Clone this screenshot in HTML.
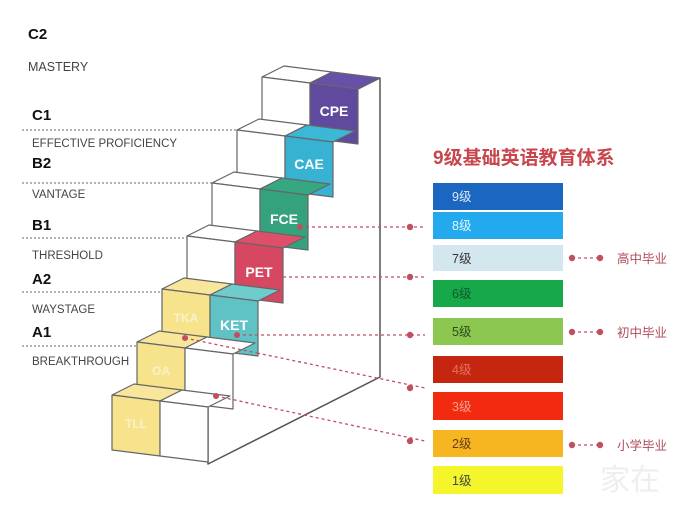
<!DOCTYPE html>
<html><head><meta charset="utf-8"><style>
html,body{margin:0;padding:0;background:#fff;}
svg{display:block;}
</style></head><body>
<svg width="700" height="505" viewBox="0 0 700 505" xmlns="http://www.w3.org/2000/svg" font-family="Liberation Sans, Noto Sans CJK SC, sans-serif">
<rect width="700" height="505" fill="#fff"/>
<!-- left labels -->
<g fill="#111" font-weight="bold" font-size="15">
<text x="28" y="39">C2</text>
<text x="32" y="120">C1</text>
<text x="32" y="168">B2</text>
<text x="32" y="230">B1</text>
<text x="32" y="284">A2</text>
<text x="32" y="337">A1</text>
</g>
<g fill="#444" font-size="11.5">
<text x="28" y="71" font-size="12.5">MASTERY</text>
<text x="32" y="147">EFFECTIVE PROFICIENCY</text>
<text x="32" y="198">VANTAGE</text>
<text x="32" y="259">THRESHOLD</text>
<text x="32" y="313">WAYSTAGE</text>
<text x="32" y="365">BREAKTHROUGH</text>
</g>
<g stroke="#888" stroke-width="1.2" stroke-dasharray="2,2">
<line x1="22" y1="130" x2="237" y2="130"/>
<line x1="22" y1="183" x2="212" y2="183"/>
<line x1="22" y1="238" x2="187" y2="238"/>
<line x1="22" y1="292" x2="162" y2="292"/>
<line x1="22" y1="346" x2="137" y2="346"/>
</g>
<!-- wall -->
<polygon points="358,89 380,78 380,377 208,464 208,407" fill="#fff" stroke="#555" stroke-width="1.5" stroke-linejoin="round"/>
<g stroke="#666" stroke-width="1.2" stroke-linejoin="round">
<!-- step 6 -->
<polygon points="262,77 310,83 332,72 284,66" fill="#fff"/>
<polygon points="310,83 358,89 380,78 332,72" fill="#6650a8"/>
<polygon points="262,77 310,83 310,138 262,132" fill="#fff"/>
<polygon points="310,83 358,89 358,144 310,138" fill="#5f4a9e"/>
<!-- step 5 -->
<polygon points="237,130 285,136 307,125 259,119" fill="#fff"/>
<polygon points="285,136 333,142 355,131 307,125" fill="#3bb8d6"/>
<polygon points="237,130 285,136 285,191 237,185" fill="#fff"/>
<polygon points="285,136 333,142 333,197 285,191" fill="#38b2d2"/>
<!-- step 4 -->
<polygon points="212,183 260,189 282,178 234,172" fill="#fff"/>
<polygon points="260,189 308,195 330,184 282,178" fill="#35a882"/>
<polygon points="212,183 260,189 260,244 212,238" fill="#fff"/>
<polygon points="260,189 308,195 308,250 260,244" fill="#35a27e"/>
<!-- step 3 -->
<polygon points="187,236 235,242 257,231 209,225" fill="#fff"/>
<polygon points="235,242 283,248 305,237 257,231" fill="#de5069"/>
<polygon points="187,236 235,242 235,297 187,291" fill="#fff"/>
<polygon points="235,242 283,248 283,303 235,297" fill="#d64862"/>
<!-- step 2 -->
<polygon points="162,289 210,295 232,284 184,278" fill="#f8e79a"/>
<polygon points="210,295 258,301 280,290 232,284" fill="#6ecccc"/>
<polygon points="162,289 210,295 210,350 162,344" fill="#f6e38c"/>
<polygon points="210,295 258,301 258,356 210,350" fill="#5fc2c4"/>
<!-- step 1 -->
<polygon points="137,342 185,348 207,337 159,331" fill="#f8e79a"/>
<polygon points="185,348 233,354 255,343 207,337" fill="#fff"/>
<polygon points="137,342 185,348 185,403 137,397" fill="#f6e38c"/>
<polygon points="185,348 233,354 233,409 185,403" fill="#fff"/>
<!-- step 0 -->
<polygon points="112,395 160,401 182,390 134,384" fill="#f8e79a"/>
<polygon points="160,401 208,407 230,396 182,390" fill="#fff"/>
<polygon points="112,395 160,401 160,456 112,450" fill="#f6e38c"/>
<polygon points="160,401 208,407 208,462 160,456" fill="#fff"/>
</g>
<g fill="#fff" font-weight="bold" font-size="14" text-anchor="middle">
<text x="334" y="116">CPE</text>
<text x="309" y="169">CAE</text>
<text x="284" y="224">FCE</text>
<text x="259" y="277">PET</text>
<text x="234" y="330">KET</text>
<text x="186" y="322" fill="#fbf1c8" font-size="12">TKA</text>
<text x="161" y="375" fill="#fbf1c8" font-size="12">OA</text>
<text x="136" y="428" fill="#fbf1c8" font-size="12">TLL</text>
</g>
<!-- red connectors -->
<g stroke="#c0505e" stroke-width="1.3" stroke-dasharray="3,3" fill="none">
<line x1="300" y1="227" x2="425" y2="227"/>
<line x1="283" y1="277" x2="425" y2="277"/>
<line x1="237" y1="335" x2="425" y2="335"/>
<line x1="257" y1="353" x2="425" y2="388"/>
<line x1="185" y1="338" x2="257" y2="353"/>
<line x1="216" y1="396" x2="425" y2="441"/>
<line x1="572" y1="258" x2="600" y2="258"/>
<line x1="572" y1="332" x2="600" y2="332"/>
<line x1="572" y1="445" x2="600" y2="445"/>
</g>
<g fill="#c0505e">
<circle cx="300" cy="227" r="3"/><circle cx="237" cy="335" r="3"/><circle cx="185" cy="338" r="3"/><circle cx="216" cy="396" r="3"/>
<circle cx="410" cy="227" r="3.2"/><circle cx="410" cy="277" r="3.2"/><circle cx="410" cy="335" r="3.2"/><circle cx="410" cy="388" r="3.2"/><circle cx="410" cy="441" r="3.2"/>
<circle cx="572" cy="258" r="3.2"/><circle cx="600" cy="258" r="3.2"/>
<circle cx="572" cy="332" r="3.2"/><circle cx="600" cy="332" r="3.2"/>
<circle cx="572" cy="445" r="3.2"/><circle cx="600" cy="445" r="3.2"/>
</g>
<!-- title -->
<text x="433" y="164" fill="#c8474f" font-size="19" font-weight="bold">9级基础英语教育体系</text>
<!-- bars -->
<rect x="433" y="183" width="130" height="27" fill="#1a66c0"/>
<rect x="433" y="212" width="130" height="27" fill="#22a9ee"/>
<rect x="433" y="245" width="130" height="26" fill="#d5e7ee"/>
<rect x="433" y="280" width="130" height="27" fill="#17a84a"/>
<rect x="433" y="318" width="130" height="27" fill="#8bc751"/>
<rect x="433" y="356" width="130" height="27" fill="#c4260f"/>
<rect x="433" y="392" width="130" height="28" fill="#f22b10"/>
<rect x="433" y="430" width="130" height="27" fill="#f5b622"/>
<rect x="433" y="466" width="130" height="28" fill="#f4f52a"/>
<g font-size="12.5">
<text x="452" y="201" fill="#dfe9f7">9级</text>
<text x="452" y="230" fill="#e6f5fd">8级</text>
<text x="452" y="263" fill="#333">7级</text>
<text x="452" y="298" fill="#0e5a2a">6级</text>
<text x="452" y="336" fill="#2c4a1a">5级</text>
<text x="452" y="374" fill="#e77060">4级</text>
<text x="452" y="411" fill="#f8a090">3级</text>
<text x="452" y="448" fill="#6a3a10">2级</text>
<text x="452" y="485" fill="#444">1级</text>
</g>
<g fill="#b04a5a" font-size="12.5">
<text x="617" y="263">高中毕业</text>
<text x="617" y="337">初中毕业</text>
<text x="617" y="450">小学毕业</text>
</g>
<text x="600" y="490" fill="#eee" font-size="30">家在</text>
</svg>
</body></html>
